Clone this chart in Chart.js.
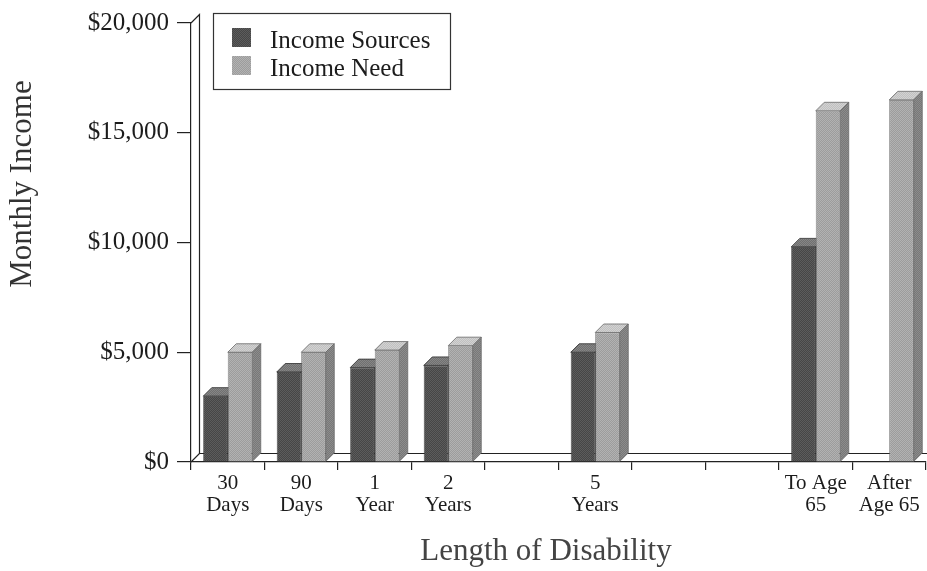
<!DOCTYPE html>
<html>
<head>
<meta charset="utf-8">
<script src="https://cdn.jsdelivr.net/npm/chart.js@4/dist/chart.umd.min.js"></script>
<style>
  html, body { margin: 0; padding: 0; background: #fff; }
  canvas { display: block; }
</style>
</head>
<body>
<canvas id="chart" width="927" height="571"></canvas>
<script>
// Length of disability periods (two-line tick labels; blanks keep the time spacing)
const categories = [
  ["30", "Days"], ["90", "Days"], ["1", "Year"], ["2", "Years"], "",
  ["5", "Years"], "", "", ["To Age", "65"], ["After", "Age 65"]
];
// Monthly income, in dollars
const incomeSources = [3000, 4100, 4300, 4400, null, 5000, null, null, 9800, null];
const incomeNeed    = [5000, 5000, 5100, 5300, null, 5900, null, null, 16000, 16500];
const yTickValues   = [0, 5000, 10000, 15000, 20000];
const seriesNames   = ["Income Sources", "Income Need"];

const SERIF = "'Liberation Serif', 'Times New Roman', serif";
const INK = '#1c1c1c';
const DEPTH = 8.5;

// Small dithered fill, like a halftone print
function dither(a, b) {
  const c = document.createElement('canvas');
  c.width = 2; c.height = 2;
  const g = c.getContext('2d');
  g.fillStyle = a; g.fillRect(0, 0, 2, 2);
  g.fillStyle = b; g.fillRect(0, 0, 1, 1); g.fillRect(1, 1, 1, 1);
  return g.createPattern(c, 'repeat');
}

const shades = [
  { front: dither('#464646', '#5c5c5c'), top: dither('#707070', '#868686'), side: dither('#363636', '#4a4a4a'), edge: '#2e2e2e' },
  { front: dither('#9c9c9c', '#b2b2b2'), top: dither('#c0c0c0', '#d2d2d2'), side: dither('#787878', '#8c8c8c'), edge: '#686868' }
];

// Floor, back wall and the top/side faces of every bar
const depthPlugin = {
  id: 'depth',
  beforeDatasetsDraw(chart) {
    const ctx = chart.ctx;
    const a = chart.chartArea;
    ctx.save();
    ctx.strokeStyle = '#222';
    ctx.lineWidth = 1.2;
    ctx.beginPath();
    // back wall edge
    ctx.moveTo(a.left, a.top);
    ctx.lineTo(a.left + DEPTH, a.top - DEPTH);
    ctx.lineTo(a.left + DEPTH, a.bottom - DEPTH);
    ctx.lineTo(a.left, a.bottom);
    // back edge of the floor
    ctx.moveTo(a.left + DEPTH, a.bottom - DEPTH);
    ctx.lineTo(chart.width, a.bottom - DEPTH);
    ctx.stroke();

    chart.data.datasets.forEach((ds, di) => {
      const meta = chart.getDatasetMeta(di);
      const s = shades[di];
      meta.data.forEach((el, i) => {
        if (ds.data[i] == null) return;
        const { x, y, base, width } = el.getProps(['x', 'y', 'base', 'width'], true);
        const l = x - width / 2, r = x + width / 2;
        ctx.lineWidth = 0.8;
        ctx.strokeStyle = s.edge;
        // top face
        ctx.beginPath();
        ctx.moveTo(l, y); ctx.lineTo(r, y);
        ctx.lineTo(r + DEPTH, y - DEPTH); ctx.lineTo(l + DEPTH, y - DEPTH);
        ctx.closePath();
        ctx.fillStyle = s.top; ctx.fill(); ctx.stroke();
        // side face
        ctx.beginPath();
        ctx.moveTo(r, y); ctx.lineTo(r + DEPTH, y - DEPTH);
        ctx.lineTo(r + DEPTH, base - DEPTH); ctx.lineTo(r, base);
        ctx.closePath();
        ctx.fillStyle = s.side; ctx.fill(); ctx.stroke();
      });
    });
    ctx.restore();
  },
  afterDraw(chart) {
    const ctx = chart.ctx;
    ctx.save();
    // axis titles
    ctx.fillStyle = '#333';
    ctx.font = `31px ${SERIF}`;
    ctx.textAlign = 'center';
    ctx.textBaseline = 'middle';
    ctx.save();
    ctx.translate(23, 184);
    ctx.rotate(-Math.PI / 2);
    ctx.fillText('Monthly Income', 0, 0);
    ctx.restore();
    ctx.fillStyle = '#444';
    ctx.fillText('Length of Disability', 546, 552);

    // legend box
    ctx.strokeStyle = '#333';
    ctx.lineWidth = 1.2;
    ctx.strokeRect(213.5, 13.5, 237, 76);
    ctx.font = `25px ${SERIF}`;
    ctx.textAlign = 'left';
    ctx.textBaseline = 'alphabetic';
    chart.data.datasets.forEach((ds, di) => {
      const top = 28 + di * 28;
      ctx.fillStyle = shades[di].front;
      ctx.fillRect(232, top, 19, 19);
      ctx.fillStyle = INK;
      ctx.fillText(ds.label, 270, top + 19.5);
    });
    ctx.restore();
  }
};

new Chart(document.getElementById('chart'), {
  type: 'bar',
  data: {
    labels: categories,
    datasets: [
      { label: seriesNames[0], data: incomeSources, backgroundColor: shades[0].front, borderColor: shades[0].edge, borderWidth: 0.8 },
      { label: seriesNames[1], data: incomeNeed, backgroundColor: shades[1].front, borderColor: shades[1].edge, borderWidth: 0.8 }
    ]
  },
  options: {
    responsive: false,
    animation: false,
    layout: { padding: { top: 19, right: 1, left: 0, bottom: 0 } },
    datasets: { bar: { categoryPercentage: 0.667, barPercentage: 1 } },
    plugins: { legend: { display: false }, tooltip: { enabled: false } },
    scales: {
      x: {
        grid: { offset: true, drawOnChartArea: false, tickLength: 8, color: '#222', lineWidth: 1.2 },
        border: { color: '#222', width: 1.2 },
        ticks: {
          font: { family: SERIF, size: 21, lineHeight: 1.02 },
          color: INK, padding: 3, maxRotation: 0, autoSkip: false
        },
        afterFit(scale) { scale.height = 109; }
      },
      y: {
        min: 0, max: 20000,
        afterBuildTicks(scale) { scale.ticks = yTickValues.map(v => ({ value: v })); },
        grid: { drawOnChartArea: false, tickLength: 14, color: '#222', lineWidth: 1.2 },
        border: { color: '#222', width: 1.2 },
        ticks: {
          font: { family: SERIF, size: 25 },
          color: INK, padding: 8,
          callback: v => '$' + Number(v).toLocaleString('en-US')
        },
        afterFit(scale) { scale.width = 191; }
      }
    }
  },
  plugins: [depthPlugin]
});
</script>
</body>
</html>
